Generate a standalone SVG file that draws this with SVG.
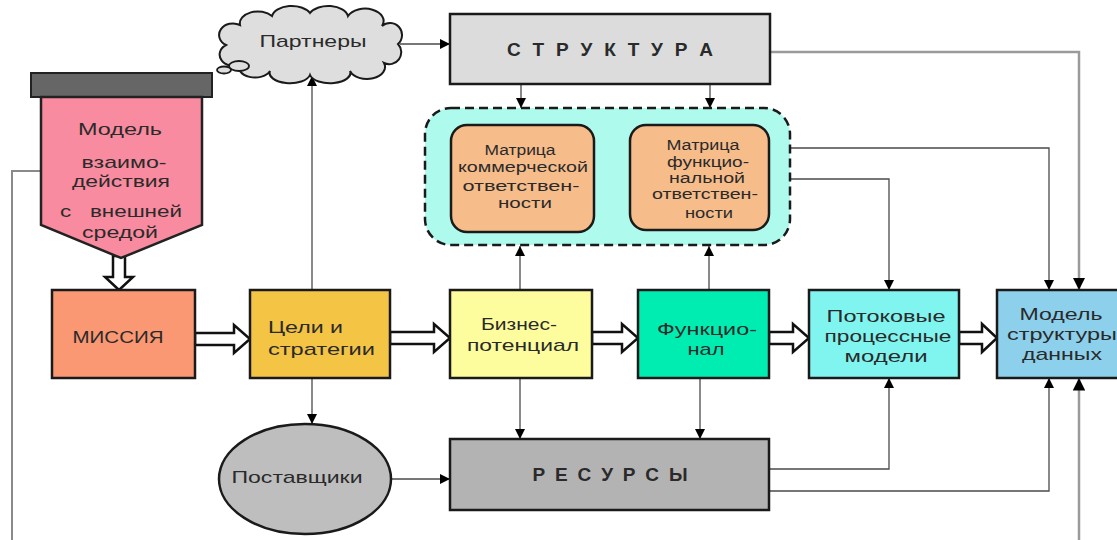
<svg xmlns="http://www.w3.org/2000/svg" width="1117" height="540" viewBox="0 0 1117 540">
<style>
.box{stroke:#1a1a1a;stroke-width:2.5}
.t{font-family:"Liberation Sans",Arial,sans-serif;font-size:17px;fill:#2a2a2a;text-anchor:middle}
.ts{font-family:"Liberation Sans",Arial,sans-serif;font-size:14px;fill:#2a2a2a;text-anchor:middle}
.tb{font-family:"Liberation Sans",Arial,sans-serif;font-size:19px;font-weight:bold;fill:#2a2a2a;text-anchor:middle}
.c{fill:none;stroke:#4a4a4a;stroke-width:1.3}
.ck{fill:none;stroke:#9a9a9a;stroke-width:2.5}
.h{fill:#fff;stroke:#111;stroke-width:2.5;stroke-linejoin:miter}
</style>
<defs>
<marker id="a" viewBox="0 0 10 10" refX="10" refY="5" markerWidth="10" markerHeight="10" markerUnits="userSpaceOnUse" orient="auto">
<path d="M0,0 L10,5 L0,10 Z" fill="#000"/>
</marker>
<marker id="ak" viewBox="0 0 10 10" refX="10" refY="5" markerWidth="5" markerHeight="5" orient="auto">
<path d="M0,0 L10,5 L0,10 Z" fill="#000"/>
</marker>
</defs>

<g id="connectors">
<path class="c" d="M400,44 H450" marker-end="url(#a)"/>
<path class="c" d="M312,290 V76" marker-end="url(#a)"/>
<path class="c" d="M312,378 V424" marker-end="url(#a)"/>
<path class="c" d="M391,479 H450" marker-end="url(#a)"/>
<path class="c" d="M521,84 V108" marker-end="url(#a)"/>
<path class="c" d="M710,84 V108" marker-end="url(#a)"/>
<path class="c" d="M520,290 V246" marker-end="url(#a)"/>
<path class="c" d="M709,290 V246" marker-end="url(#a)"/>
<path class="c" d="M520,378 V439" marker-end="url(#a)"/>
<path class="c" d="M700,378 V439" marker-end="url(#a)"/>
<path class="ck" d="M770,52 H1079 V290" marker-end="url(#ak)"/>
<path class="c" d="M790,148 H1049 V290" marker-end="url(#a)"/>
<path class="c" d="M769,179 H889 V290" marker-end="url(#a)"/>
<path class="c" d="M769,469 H889 V378" marker-end="url(#a)"/>
<path class="c" d="M769,491 H1049 V378" marker-end="url(#a)"/>
<path class="ck" d="M1079,540 V378" marker-end="url(#ak)"/>
<path class="ck" style="stroke:#8a8a8a;stroke-width:2" d="M41,171 H12 V540"/>
<polygon class="h" points="113,256 125,256 125,277 133,277 119,290 105,277 113,277"/>
<polygon class="h" points="195,333 234,333 234,325 250,339 234,353 234,345 195,345"/>
<polygon class="h" points="390,332 434,332 434,324 450,338 434,352 434,344 390,344"/>
<polygon class="h" points="592,332 622,332 622,324 638,338 622,352 622,344 592,344"/>
<polygon class="h" points="769,332 793,332 793,324 809,338 793,352 793,344 769,344"/>
<polygon class="h" points="959,332 982,332 982,324 997,338 982,352 982,344 959,344"/>
</g>

<g id="partners">
<path d="M226,45 A12,10 0 0 1 240,25 A18,12 0 0 1 272,16 A20,12 0 0 1 310,13 A20,12 0 0 1 348,16 A18,12 0 0 1 382,26 A12,12 0 0 1 398,44 A12,12 0 0 1 384,63 A18,12 0 0 1 350,71 A20,10 0 0 1 310,75 A20,10 0 0 1 270,71 A16,10 0 0 1 240,64 A12,10 0 0 1 226,45 Z" fill="#DEDEDE" stroke="#1a1a1a" stroke-width="2"/>
<ellipse cx="239" cy="66" rx="10" ry="5" fill="#DEDEDE" stroke="#1a1a1a" stroke-width="1.8"/>
<ellipse cx="224" cy="70" rx="7" ry="3.5" fill="#DEDEDE" stroke="#1a1a1a" stroke-width="1.8"/>
<text class="t" x="313" y="47" textLength="107" lengthAdjust="spacingAndGlyphs">Партнеры</text>
</g>

<g id="model-env">
<rect x="31" y="73" width="181" height="24" fill="#666" stroke="#222" stroke-width="2"/>
<polygon points="41,97 202,97 202,225 121,258 41,225" fill="#F98BA0" stroke="#222" stroke-width="2.5"/>
<text class="t" x="120" y="135" textLength="84" lengthAdjust="spacingAndGlyphs">Модель</text>
<text class="t" x="124" y="168" textLength="85" lengthAdjust="spacingAndGlyphs">взаимо-</text>
<text class="t" x="121" y="187" textLength="98" lengthAdjust="spacingAndGlyphs">действия</text>
<text class="t" x="121" y="217" style="white-space:pre" textLength="122" lengthAdjust="spacingAndGlyphs">с   внешней</text>
<text class="t" x="120" y="238" textLength="76" lengthAdjust="spacingAndGlyphs">средой</text>
</g>

<g id="structure">
<rect class="box" x="450" y="14" width="320" height="70" fill="#DCDCDC"/>
<text class="tb" x="610" y="56" textLength="206" lengthAdjust="spacing">С Т Р У К Т У Р А</text>
</g>

<g id="matrices">
<rect x="425" y="108" width="365" height="137" rx="26" fill="#AEFBEE" stroke="#1a1a1a" stroke-width="2.5" stroke-dasharray="9,5"/>
<g id="matrix-commercial">
<rect class="box" x="451" y="125" width="143" height="107" rx="16" fill="#F6BC8A"/>
<text class="ts" x="520" y="155" textLength="71" lengthAdjust="spacingAndGlyphs">Матрица</text>
<text class="ts" x="523" y="172" textLength="130" lengthAdjust="spacingAndGlyphs">коммерческой</text>
<text class="ts" x="521" y="191" textLength="117" lengthAdjust="spacingAndGlyphs">ответствен-</text>
<text class="ts" x="525" y="208" textLength="54" lengthAdjust="spacingAndGlyphs">ности</text>
</g>
<g id="matrix-functional">
<rect class="box" x="630" y="125" width="139" height="105" rx="16" fill="#F6BC8A"/>
<text class="ts" x="703" y="150" textLength="73" lengthAdjust="spacingAndGlyphs">Матрица</text>
<text class="ts" x="708" y="167" textLength="82" lengthAdjust="spacingAndGlyphs">функцио-</text>
<text class="ts" x="707" y="183" textLength="76" lengthAdjust="spacingAndGlyphs">нальной</text>
<text class="ts" x="705" y="199" textLength="106" lengthAdjust="spacingAndGlyphs">ответствен-</text>
<text class="ts" x="709" y="218" textLength="48" lengthAdjust="spacingAndGlyphs">ности</text>
</g>
</g>

<g id="mission">
<rect class="box" x="52" y="290" width="143" height="88" fill="#FB9874"/>
<text class="t" x="118" y="343" textLength="91" lengthAdjust="spacingAndGlyphs">МИССИЯ</text>
</g>

<g id="goals">
<rect class="box" x="250" y="290" width="140" height="88" fill="#F4C445"/>
<text class="t" x="268" y="333" style="text-anchor:start" textLength="75" lengthAdjust="spacingAndGlyphs">Цели и</text>
<text class="t" x="268" y="355" style="text-anchor:start" textLength="107" lengthAdjust="spacingAndGlyphs">стратегии</text>
</g>

<g id="business">
<rect class="box" x="450" y="290" width="142" height="88" fill="#FDFD9D"/>
<text class="t" x="519" y="330" textLength="76" lengthAdjust="spacingAndGlyphs">Бизнес-</text>
<text class="t" x="523" y="351" textLength="112" lengthAdjust="spacingAndGlyphs">потенциал</text>
</g>

<g id="functional">
<rect class="box" x="638" y="290" width="131" height="88" fill="#00EDB2"/>
<text class="t" x="707" y="335" textLength="100" lengthAdjust="spacingAndGlyphs">Функцио-</text>
<text class="t" x="706" y="355" textLength="37" lengthAdjust="spacingAndGlyphs">нал</text>
</g>

<g id="flow-models">
<rect class="box" x="809" y="290" width="150" height="88" fill="#80F5F0"/>
<text class="t" x="886" y="322" textLength="119" lengthAdjust="spacingAndGlyphs">Потоковые</text>
<text class="t" x="888" y="342" textLength="127" lengthAdjust="spacingAndGlyphs">процессные</text>
<text class="t" x="886" y="362" textLength="83" lengthAdjust="spacingAndGlyphs">модели</text>
</g>

<g id="data-model">
<rect class="box" x="997" y="290" width="130" height="88" fill="#8DD0EC"/>
<text class="t" x="1061" y="320" textLength="83" lengthAdjust="spacingAndGlyphs">Модель</text>
<text class="t" x="1062" y="340" textLength="110" lengthAdjust="spacingAndGlyphs">структуры</text>
<text class="t" x="1062" y="360" textLength="80" lengthAdjust="spacingAndGlyphs">данных</text>
</g>

<g id="suppliers">
<ellipse cx="305" cy="479" rx="86" ry="55" fill="#BEBEBE" stroke="#1a1a1a" stroke-width="2.5"/>
<text class="t" x="297" y="483" textLength="131" lengthAdjust="spacingAndGlyphs">Поставщики</text>
</g>

<g id="resources">
<rect class="box" x="450" y="439" width="319" height="71" fill="#B3B3B3"/>
<text class="tb" x="610" y="481" textLength="155" lengthAdjust="spacing">Р Е С У Р С Ы</text>
</g>
</svg>
